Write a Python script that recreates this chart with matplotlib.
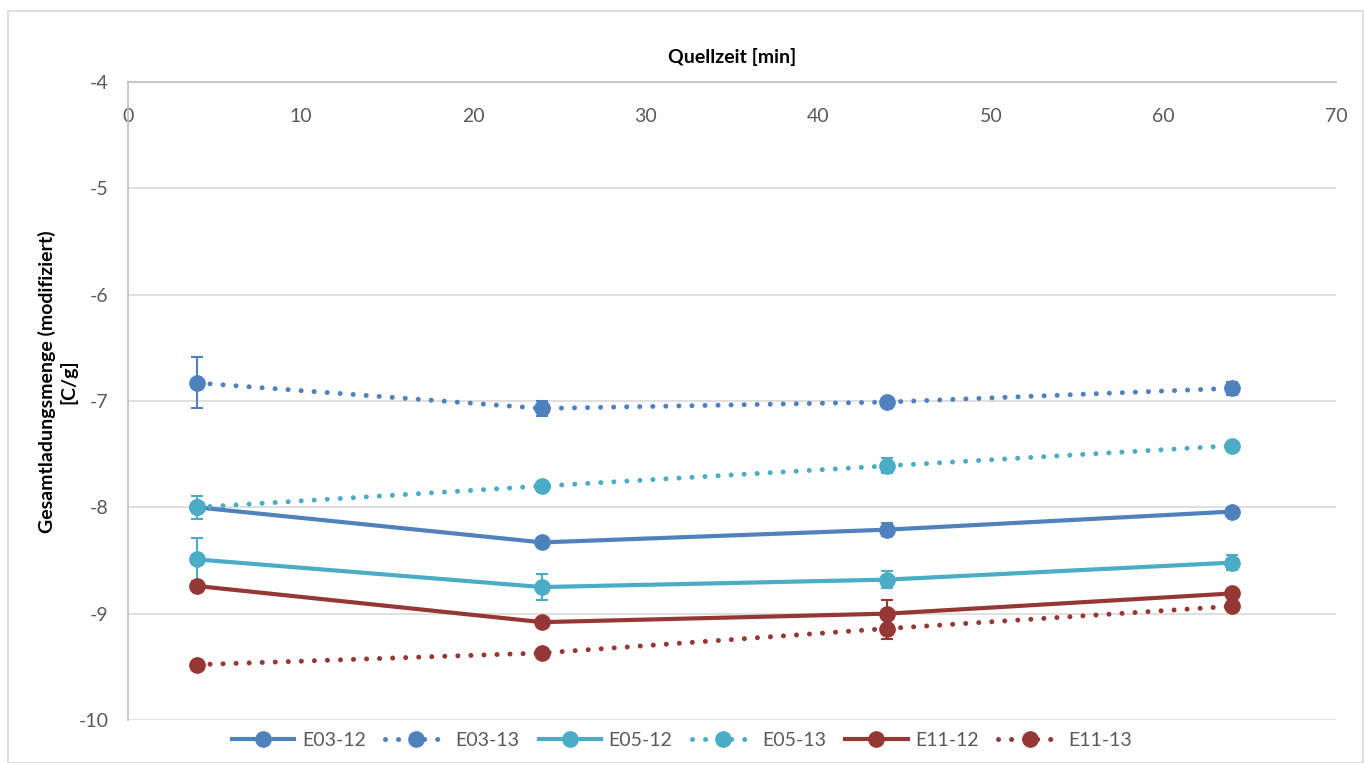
import matplotlib.pyplot as plt
from matplotlib.lines import Line2D
from matplotlib.patches import Rectangle

plt.rcParams['font.family'] = ['Lato', 'DejaVu Sans']
plt.rcParams['axes.unicode_minus'] = False

# Quellzeit in Minuten
zeit = [4, 24, 44, 64]

# Gesamtladungsmenge je Probe (Mittelwert und Standardabweichung)
e03_12 = [-8.00, -8.33, -8.21, -8.04]
e03_12_err = [0.03, 0.03, 0.06, 0.03]
e03_13 = [-6.83, -7.07, -7.01, -6.88]
e03_13_err = [0.24, 0.07, 0.02, 0.06]
e05_12 = [-8.49, -8.75, -8.68, -8.52]
e05_12_err = [0.20, 0.12, 0.08, 0.07]
e05_13 = [-8.00, -7.80, -7.61, -7.42]
e05_13_err = [0.11, 0.02, 0.07, 0.01]
e11_12 = [-8.74, -9.08, -9.00, -8.81]
e11_12_err = [0.04, 0.02, 0.13, 0.02]
e11_13 = [-9.48, -9.37, -9.14, -8.93]
e11_13_err = [0.02, 0.03, 0.10, 0.02]

serien = [
    ('E03-12', e03_12, e03_12_err, '#4f81bd', '-'),
    ('E03-13', e03_13, e03_13_err, '#4f81bd', ':'),
    ('E05-12', e05_12, e05_12_err, '#4bacc6', '-'),
    ('E05-13', e05_13, e05_13_err, '#4bacc6', ':'),
    ('E11-12', e11_12, e11_12_err, '#953735', '-'),
    ('E11-13', e11_13, e11_13_err, '#953735', ':'),
]

fig = plt.figure(figsize=(13.64, 7.63), dpi=100)
ax = fig.add_axes([0.0938, 0.0564, 0.8857, 0.8361])

handles = []
for name, werte, fehler, farbe, stil in serien:
    if stil == ':':
        ls, lw = (0, (0.01, 2.6)), 3.6
    else:
        ls, lw = '-', 3
    ax.errorbar(zeit, werte, yerr=fehler, color=farbe, ecolor=farbe, elinewidth=1.5,
                capsize=4.5, capthick=1.5, linewidth=lw, linestyle=ls,
                dash_capstyle='round', marker='o', markersize=11)
    handles.append(Line2D([], [], color=farbe, linewidth=lw, linestyle=ls,
                          dash_capstyle='round', marker='o', markersize=11, label=name))

ax.set_xlim(0, 70)
ax.set_ylim(-10, -4)
ax.set_xticks(range(0, 71, 10))
ax.set_yticks(range(-10, -3))

# x-Achse oben, Beschriftung unterhalb der Achsenlinie
ax.xaxis.set_label_position('top')
ax.tick_params(axis='x', top=True, labeltop=True, bottom=False, labelbottom=False,
               length=0, pad=-31, labelsize=14, labelcolor='#595959')
ax.tick_params(axis='y', length=0, pad=14, labelsize=14, labelcolor='#595959')
ax.set_xlabel('Quellzeit [min]', fontsize=14, fontweight='bold', labelpad=14)
ax.set_ylabel('Gesamtladungsmenge (modifiziert)\n[C/g]', fontsize=14,
              fontweight='bold')
ax.yaxis.set_label_coords(-0.042, 0.53)

ax.grid(axis='y', color='#d9d9d9', linewidth=1.2)
ax.set_axisbelow(True)
for s in ['right', 'bottom']:
    ax.spines[s].set_visible(False)
for s in ['left', 'top']:
    ax.spines[s].set_color('#bfbfbf')
    ax.spines[s].set_linewidth(1.2)

fig.legend(handles=handles, loc='center', bbox_to_anchor=(0.5, 0.03), ncol=6,
           frameon=False, fontsize=14, handlelength=3.2, columnspacing=1.0,
           handletextpad=0.4, labelcolor='#595959')

fig.patches.append(Rectangle((0.006, 0.0), 0.993, 0.985, transform=fig.transFigure,
                             fill=False, edgecolor='#d9d9d9', linewidth=1.2))

fig.savefig('out.png', dpi=100)
